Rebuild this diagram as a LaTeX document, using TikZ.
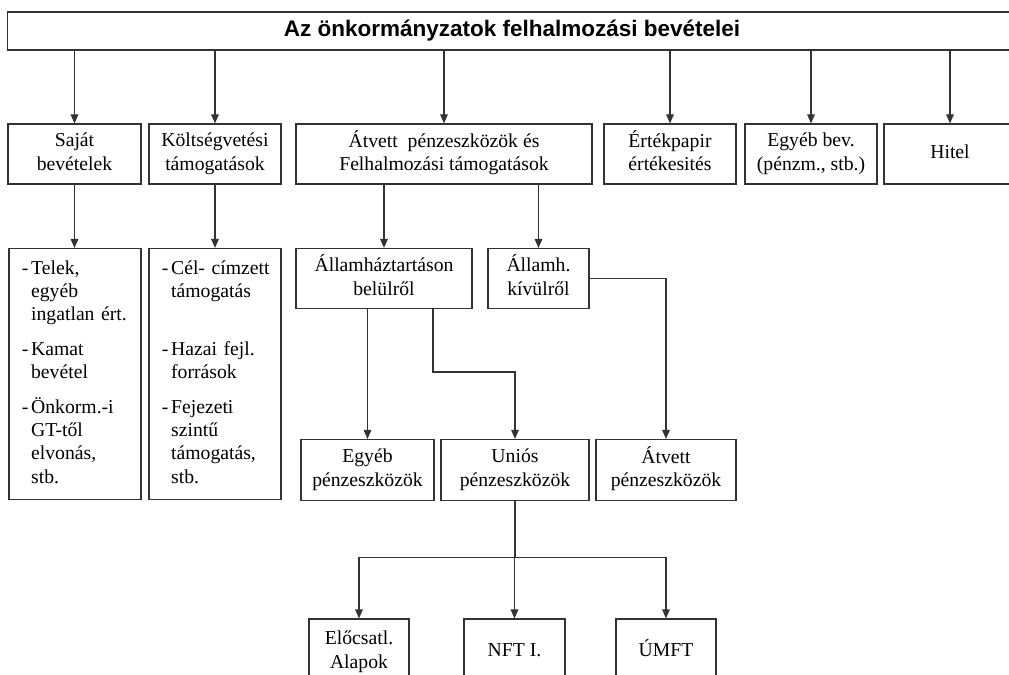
\documentclass[tikz,border=0pt]{standalone}
\usepackage{fontspec}
\setmainfont{Liberation Serif}
\setsansfont{Liberation Sans}
\usetikzlibrary{arrows.meta}
\newcommand{\sor}[1]{\begin{tabular}{@{}c@{}}#1\end{tabular}}

\begin{document}
\begin{tikzpicture}[x=0.025cm, y=-0.025cm]

\tikzset{vonal/.style = {draw=black!80, line width=0.8pt}}
\tikzset{doboz/.style = {shape=rectangle, vonal, minimum height=1.5cm, font=\fontsize{14}{16.6}\selectfont}}
\tikzset{lista/.style = {doboz, align=left, text width=2.66cm, inner xsep=0.32cm, minimum width=3.3cm, minimum height=6.275cm}}
\tikzset{edge/.style = {vonal, -{Triangle[width=5.5pt,length=6.5pt]}}}

\useasboundingbox (0,0) rectangle (1009,675);
% vertices
\node[doboz, minimum width=25.2cm, minimum height=0.95cm, font=\sffamily\bfseries\fontsize{16}{19}\selectfont] (cim) at (512,31) {Az önkormányzatok felhalmozási bevételei};
\node[doboz, minimum width=3.325cm] (saj) at (74.5,154) {\sor{Saját\\bevételek}};
\node[doboz, minimum width=3.3cm] (kolt) at (215,154) {\sor{Költségvetési\\támogatások}};
\node[doboz, minimum width=7.4cm] (atv) at (444,154) {\sor{Átvett\ \ pénzeszközök és\\Felhalmozási támogatások}};
\node[doboz, minimum width=3.3cm] (ert) at (670,154) {\sor{Értékpapir\\értékesités}};
\node[doboz, minimum width=3.3cm] (egy) at (811,154) {\sor{Egyéb bev.\\(pénzm., stb.)}};
\node[doboz, minimum width=3.3cm] (hit) at (950,154) {\sor{Hitel}};
\node[lista] (sajl) at (75,374) {\noindent\begin{tabular}{@{}l@{\hspace{2pt}}l@{}}
-&Telek,\\
&egyéb\\
&ingatlan ért.\\[8pt]
-&Kamat\\
&bevétel\\[8pt]
-&Önkorm.-i\\
&GT-től\\
&elvonás,\\
&stb.
\end{tabular}};
\node[lista] (koltl) at (215,374) {\noindent\begin{tabular}{@{}l@{\hspace{2pt}}l@{}}
-&Cél- címzett\\
&támogatás\\
&\\[8pt]
-&Hazai fejl.\\
&források\\[8pt]
-&Fejezeti\\
&szintű\\
&támogatás,\\
&stb.
\end{tabular}};
\node[doboz, minimum width=4.4cm] (belul) at (384,278.5) {\sor{Államháztartáson\\belülről}};
\node[doboz, minimum width=2.525cm] (kivul) at (538.5,278.5) {\sor{Államh.\\kívülről}};
\node[doboz, minimum width=3.325cm, minimum height=1.525cm] (egyp) at (367.5,470) {\sor{Egyéb\\pénzeszközök}};
\node[doboz, minimum width=3.7cm, minimum height=1.525cm] (unio) at (515,470) {\sor{Uniós\\pénzeszközök}};
\node[doboz, minimum width=3.5cm, minimum height=1.525cm] (atvp) at (666,470) {\sor{Átvett\\pénzeszközök}};
\node[doboz, minimum width=2.5cm, minimum height=1.65cm] (elo) at (359,652) {\sor{Előcsatl.\\Alapok}};
\node[doboz, minimum width=2.525cm, minimum height=1.65cm] (nft) at (514.5,652) {\sor{NFT I.}};
\node[doboz, minimum width=2.5cm, minimum height=1.65cm] (umft) at (666,652) {\sor{ÚMFT}};
\coordinate (k1) at (433,372);
%edges
\foreach \n in {saj,kolt,atv,ert,egy,hit}
  \draw[edge] (cim.south -| \n.north) -- (\n.north);
\draw[edge] (saj.south) -- (saj.south |- sajl.north);
\draw[edge] (kolt.south) -- (kolt.south |- koltl.north);
\draw[edge] (atv.south -| belul.north) -- (belul.north);
\draw[edge] (atv.south -| kivul.north) -- (kivul.north);
\draw[edge] (belul.south -| egyp.north) -- (egyp.north);
\draw[edge] (belul.south -| k1) -- (k1) -| (unio.north);
\draw[edge] (kivul.east) -| (atvp.north);
\draw[vonal] (unio.south) -- ++(0,56) coordinate (elag);
\foreach \n in {elo,nft,umft}
  \draw[edge] (elag) -| (\n.north);
\end{tikzpicture}
\end{document}
